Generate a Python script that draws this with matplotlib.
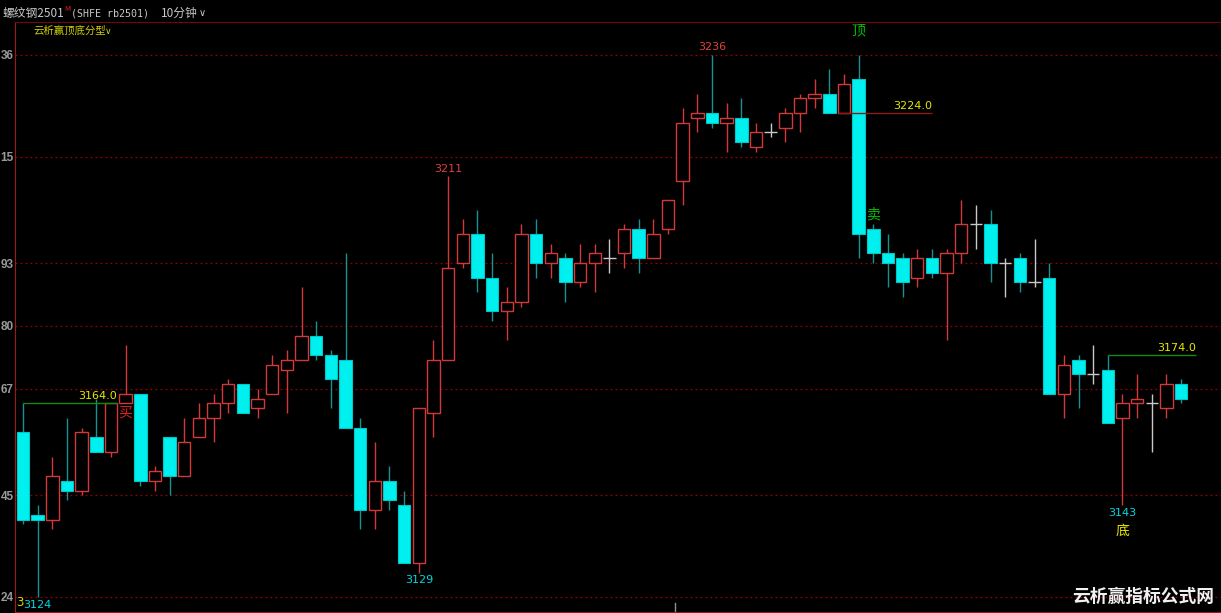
import numpy as np
import matplotlib.pyplot as plt

# CJK first, DejaVu as fallback for latin / symbols
plt.rcParams['font.family'] = ['Noto Sans CJK SC', 'DejaVu Sans']

#
# candle data (10 min bars, rb2501)
#
opens = [3158, 3141, 3140, 3148, 3146, 3157, 3154, 3164, 3166, 3148,
         3157, 3149, 3157, 3161, 3164, 3168, 3163, 3166, 3171, 3173,
         3178, 3174, 3173, 3159, 3142, 3148, 3143, 3131, 3162, 3173,
         3193, 3199, 3190, 3183, 3185, 3199, 3193, 3194, 3189, 3193,
         3194, 3195, 3200, 3194, 3200, 3210, 3223, 3224, 3222, 3223,
         3217, 3220, 3221, 3224, 3227, 3228, 3224, 3231, 3200, 3195,
         3194, 3190, 3194, 3191, 3195, 3201, 3201, 3193, 3194, 3189,
         3190, 3166, 3173, 3170, 3171, 3161, 3164, 3164, 3163, 3168]
highs = [3164, 3143, 3153, 3161, 3159, 3165, 3164, 3176, 3166, 3151,
         3157, 3161, 3164, 3166, 3169, 3168, 3167, 3174, 3175, 3188,
         3181, 3175, 3195, 3161, 3156, 3151, 3146, 3163, 3177, 3211,
         3202, 3204, 3195, 3188, 3201, 3202, 3197, 3195, 3197, 3197,
         3198, 3201, 3202, 3202, 3206, 3225, 3228, 3236, 3226, 3227,
         3222, 3222, 3225, 3228, 3231, 3233, 3232, 3236, 3201, 3199,
         3195, 3196, 3196, 3196, 3206, 3205, 3204, 3194, 3195, 3198,
         3193, 3174, 3174, 3176, 3174, 3166, 3170, 3166, 3170, 3169]
lows = [3139, 3124, 3138, 3144, 3145, 3154, 3153, 3164, 3147, 3146,
        3145, 3149, 3157, 3156, 3162, 3162, 3161, 3166, 3162, 3173,
        3173, 3163, 3159, 3138, 3138, 3142, 3131, 3129, 3157, 3173,
        3192, 3187, 3181, 3177, 3184, 3190, 3190, 3185, 3188, 3187,
        3191, 3192, 3191, 3194, 3199, 3205, 3220, 3221, 3216, 3217,
        3216, 3219, 3218, 3220, 3225, 3224, 3224, 3194, 3193, 3188,
        3186, 3188, 3190, 3177, 3193, 3196, 3189, 3186, 3187, 3188,
        3166, 3161, 3163, 3168, 3160, 3143, 3161, 3154, 3161, 3164]
closes = [3140, 3140, 3149, 3146, 3158, 3154, 3164, 3166, 3148, 3150,
          3149, 3156, 3161, 3164, 3168, 3162, 3165, 3172, 3173, 3178,
          3174, 3169, 3159, 3142, 3148, 3144, 3131, 3163, 3173, 3192,
          3199, 3190, 3183, 3185, 3199, 3193, 3195, 3189, 3193, 3195,
          3194, 3200, 3194, 3199, 3206, 3222, 3224, 3222, 3223, 3218,
          3220, 3220, 3224, 3227, 3228, 3224, 3230, 3199, 3195, 3193,
          3189, 3194, 3191, 3195, 3201, 3201, 3193, 3193, 3189, 3189,
          3166, 3172, 3170, 3170, 3160, 3164, 3165, 3164, 3168, 3165]

# left axis (only last two digits shown)
y_levels = [3124, 3145, 3167, 3180, 3193, 3215, 3236]
y_labels = ['24', '45', '67', '80', '93', '15', '36']

# extreme price labels: (bar, text, side, color, offset px)
price_marks = [(29, '3211', 'high', '#e04040', 7),
               (47, '3236', 'high', '#e04040', 8),
               (1, '3124', 'low', '#00d8e0', 8),
               (27, '3129', 'low', '#00d8e0', 7),
               (75, '3143', 'low', '#00d8e0', 8)]

# signal texts: (bar, text, side, color, offset px)
signals = [(7, '买', 'low', '#e02020', 9),
           (58, '卖', 'high', '#00c000', 10),
           (57, '顶', 'high', '#00c000', 24),
           (75, '底', 'low', '#e6e600', 26)]

# level lines: (start bar, price, end bar, color)
levels = [(0, 3164, 6.4, '#0e8a0e'),
          (55.6, 3224, 62.0, '#8c1a1a'),
          (74, 3174, 80.0, '#0e8a0e')]

# colors
up_col = '#d23a3a'
down_col = '#00f0f0'
down_wick = '#179292'
doji_col = '#c8c8c8'
bg = '#000000'

W, H = 1221, 613
fig = plt.figure(figsize=(W / 100, H / 100), dpi=100, facecolor=bg)
ax = fig.add_axes([15 / W, 1 / H, (W - 15) / W, (612 - 22) / H], facecolor=bg)

x = np.arange(len(opens))
o = np.array(opens)
h = np.array(highs)
l = np.array(lows)
c = np.array(closes)
bw = 0.85

up = c > o
down = c < o
flat = c == o

# wicks first, bodies drawn on top
ax.vlines(x[up], l[up], h[up], color=up_col, lw=1, zorder=2)
ax.vlines(x[down], l[down], h[down], color=down_wick, lw=1, zorder=2)
ax.vlines(x[flat], l[flat], h[flat], color=doji_col, lw=1, zorder=2)

ax.bar(x[up], (c - o)[up], bottom=o[up], width=bw, facecolor=bg,
       edgecolor=up_col, lw=1, zorder=3)
ax.bar(x[down], (o - c)[down], bottom=c[down], width=bw, facecolor=down_col,
       edgecolor='#00c8c8', lw=0.8, zorder=3)
ax.hlines(c[flat], x[flat] - bw / 2, x[flat] + bw / 2, color=doji_col, lw=1, zorder=3)

# grid
for lv in y_levels:
    ax.axhline(lv, color='#960000', lw=0.9, ls=(0, (1.5, 2.5)), zorder=1)

ax.set_xlim(-0.546, 81.72)
ax.set_ylim(3120.9, 3242.8)
ax.set_xticks([])
ax.set_yticks(y_levels)
ax.set_yticklabels(y_labels, color='#9a9a9a', fontsize=8.5, fontweight='bold',
                   family='Liberation Sans')
ax.tick_params(axis='y', length=0, pad=1)

ax.spines['right'].set_visible(False)
ax.spines['left'].set_color('#a01818')
ax.spines['bottom'].set_color('#a01818')
ax.spines['top'].set_color('#700808')

# small session mark at bottom
ax.axvline(44.5, ymin=0, ymax=0.016, color='#909090', lw=1)

# level lines and their labels
for x0, lv, x1, col in levels:
    ax.hlines(lv, x0, x1, color=col, lw=1, zorder=4)
    ax.annotate('%.1f' % lv, (x1, lv), xytext=(0, 1.5), textcoords='offset points',
                ha='right', va='bottom', color='#e6e600', fontsize=8,
                family='DejaVu Sans', zorder=5)

# price labels at extremes
for i, txt, side, col, off in price_marks:
    if side == 'high':
        y, dy = highs[i], off * 0.72
    else:
        y, dy = lows[i], -off * 0.72
    ax.annotate(txt, (i, y), xytext=(0, dy), textcoords='offset points',
                ha='center', va='center', color=col, fontsize=8,
                family='DejaVu Sans', zorder=5, annotation_clip=False)

for i, txt, side, col, off in signals:
    if side == 'high':
        y, dy = highs[i], off * 0.72
    else:
        y, dy = lows[i], -off * 0.72
    ax.annotate(txt, (i, y), xytext=(0, dy), textcoords='offset points',
                ha='center', va='center', color=col, fontsize=10, zorder=5)

# yellow digit peeking out left of the 3124 label
fig.text(16 / W, 1 - 603 / H, '3', color='#d8d800', fontsize=8.5, va='center',
         family='DejaVu Sans')

# header
fig.text(3 / W, 1 - 13 / H, '螺纹钢2501', color='#c8c8c8', fontsize=8.5, va='center')
fig.text(64 / W, 1 - 9 / H, 'M', color='#e02020', fontsize=5.5, va='center')
fig.text(71 / W, 1 - 13 / H, '(SHFE rb2501)', color='#c8c8c8', fontsize=7.2,
         va='center', family='DejaVu Sans Mono')
fig.text(161 / W, 1 - 13 / H, '10分钟', color='#c8c8c8', fontsize=8.5, va='center')
fig.text(199 / W, 1 - 13 / H, '∨', color='#c8c8c8', fontsize=7, va='center',
         family='DejaVu Sans')
fig.text(33 / W, 1 - 31 / H, '云析赢顶底分型', color='#d0d000', fontsize=7.5, va='center')
fig.text(105 / W, 1 - 31 / H, '∨', color='#d0d000', fontsize=6.5, va='center',
         family='DejaVu Sans')

# watermark
fig.text(1143 / W, 1 - 597 / H, '云析赢指标公式网', color='#f0f0f0', fontsize=12.8,
         fontweight='bold', ha='center', va='center')

fig.savefig('out.png', dpi=100, facecolor=bg)
